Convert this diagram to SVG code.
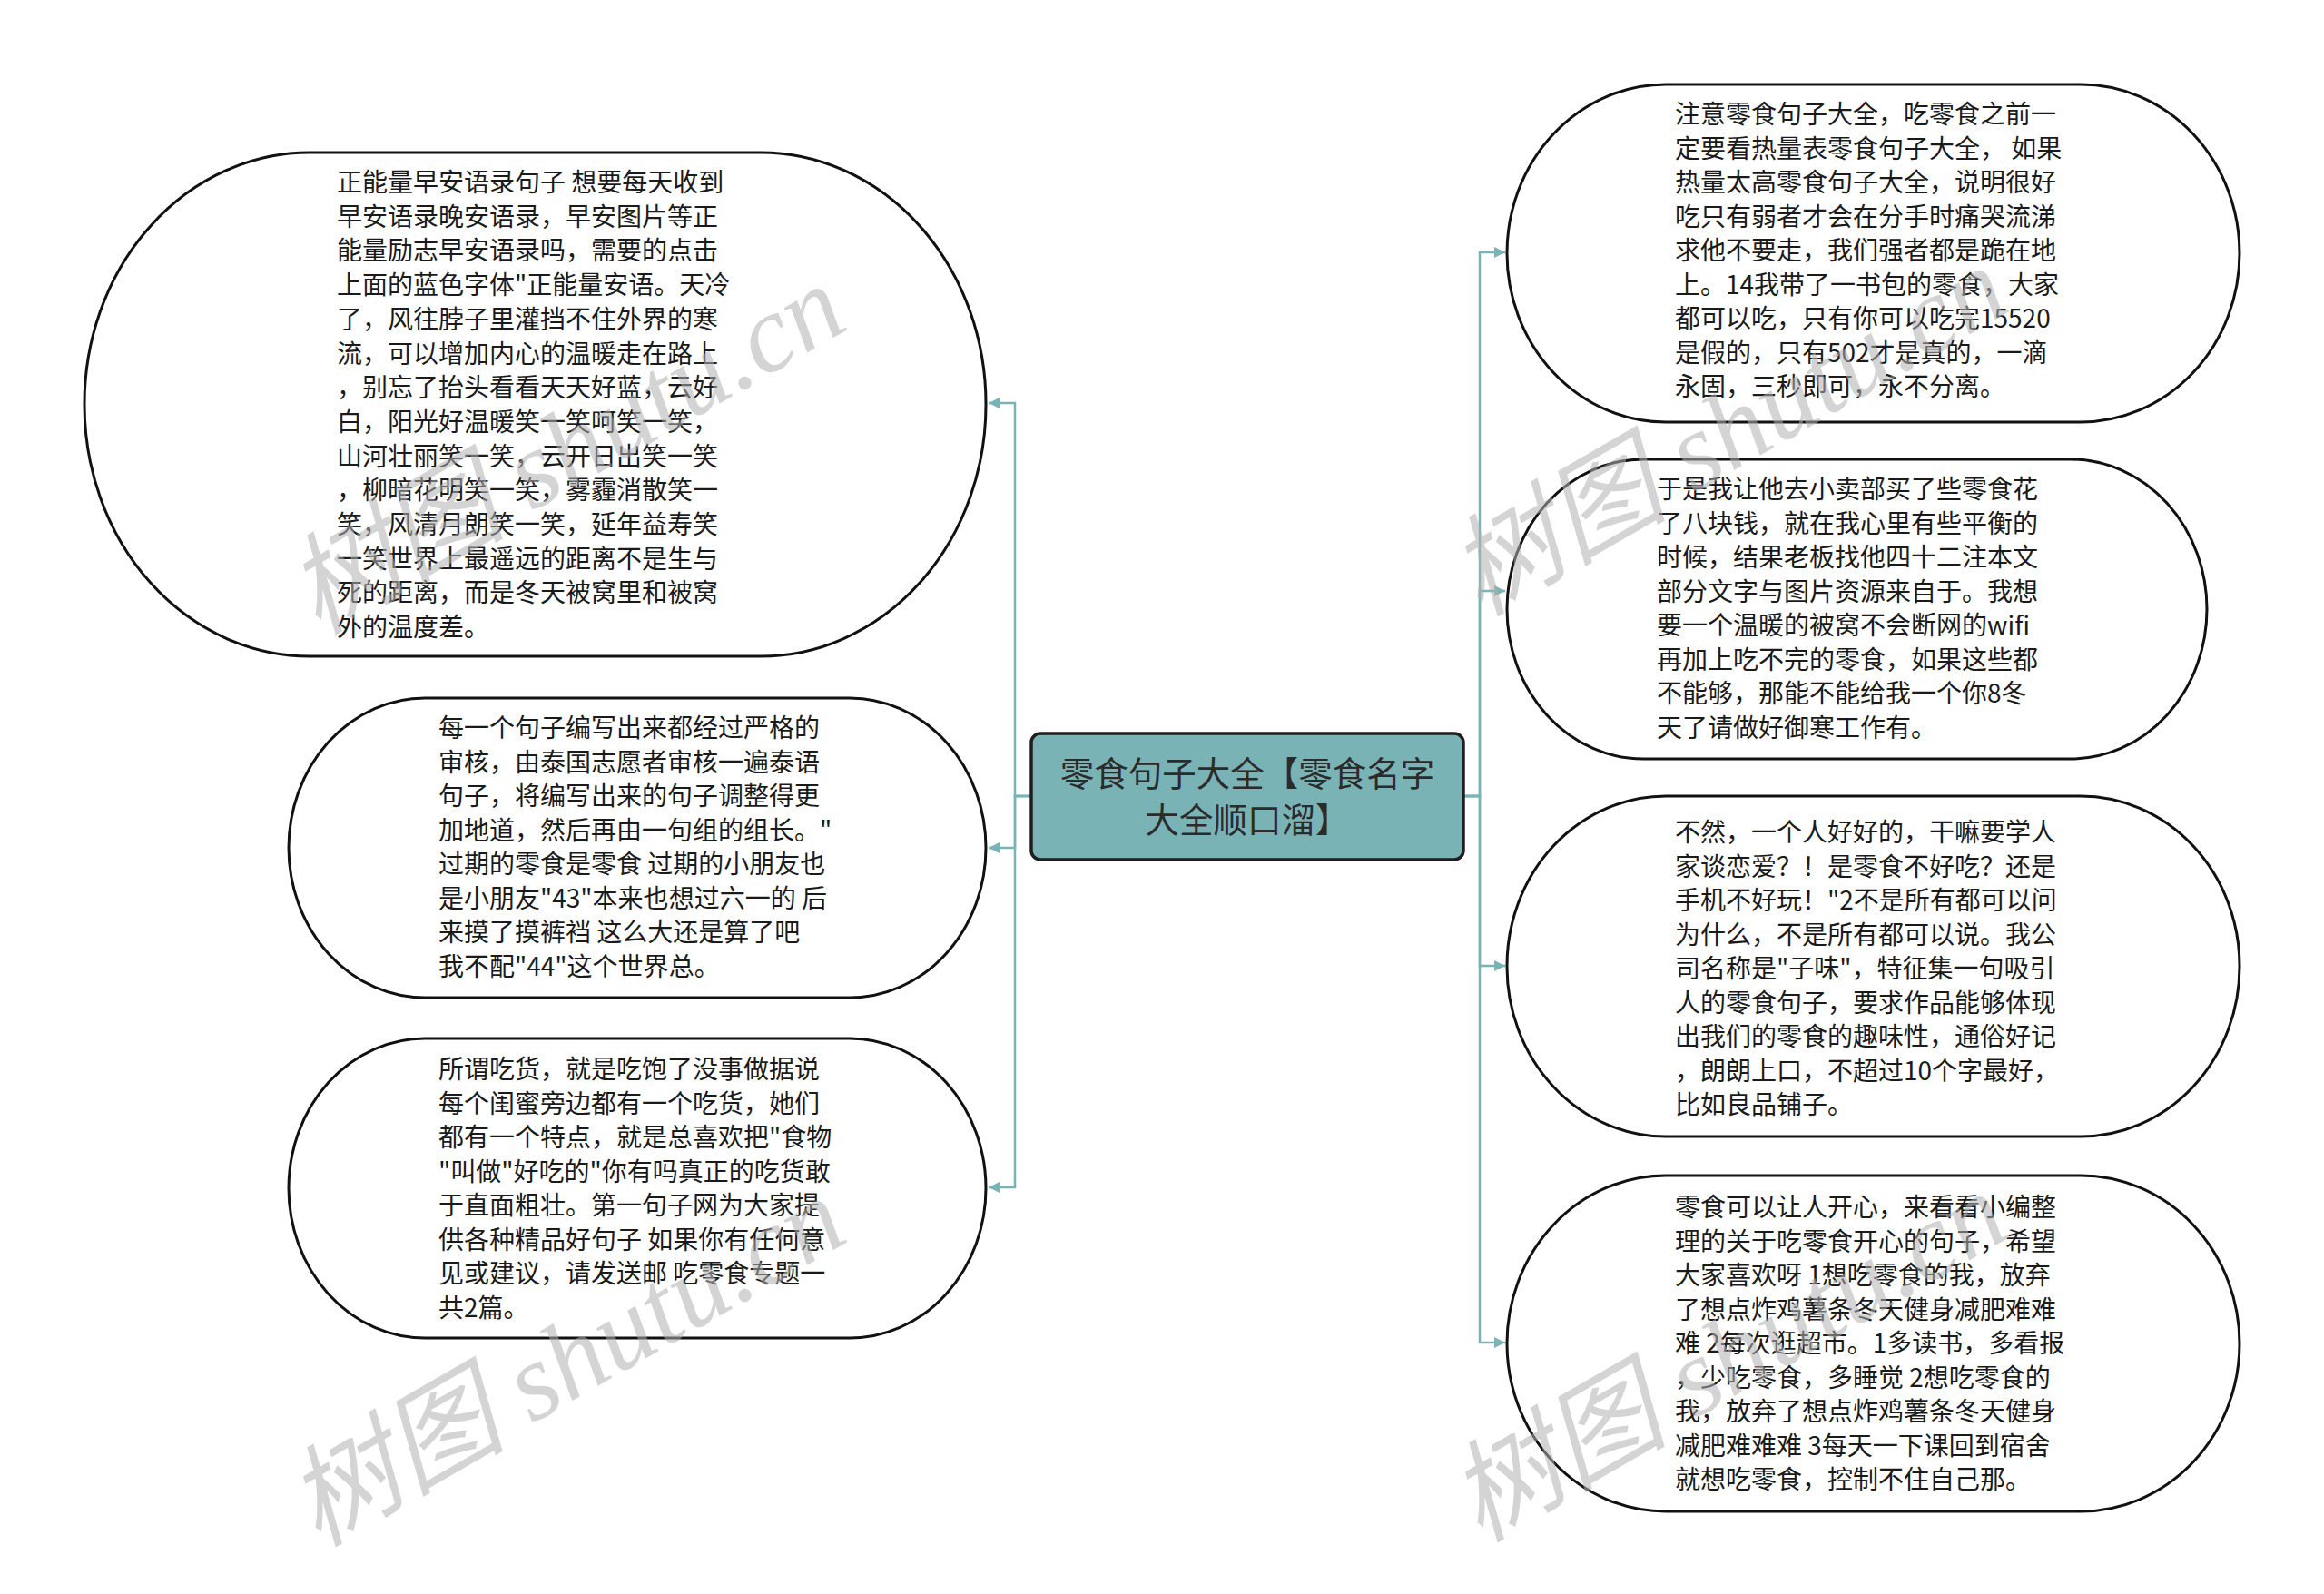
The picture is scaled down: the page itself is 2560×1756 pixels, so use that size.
<svg xmlns="http://www.w3.org/2000/svg" width="2560" height="1756" viewBox="0 0 2560 1756">
<style>
.node{fill:#ffffff;stroke:#111111;stroke-width:3}
.root{fill:#7ab3b5;stroke:#1f1f1f;stroke-width:3.5}
.t{font-family:"Noto Sans CJK SC","Noto Sans",sans-serif;font-size:28px;fill:#1a1a1a}
.rt{font-family:"Noto Sans CJK SC","Noto Sans",sans-serif;font-size:37.5px;fill:#2b2b2b;text-anchor:middle}
.edge{fill:none;stroke:#7ab3b5;stroke-width:2.5}
.wm{font-family:"Liberation Serif","Noto Sans CJK SC",serif;font-style:italic;font-size:121px;fill:#b0b0b0;fill-opacity:0.55}
</style>
<defs>
<marker id="arr" viewBox="0 0 10 10" refX="10" refY="5" markerWidth="5" markerHeight="5" orient="auto" markerUnits="strokeWidth">
<path d="M0,0 L10,5 L0,10 z" fill="#7ab3b5"/>
</marker>
</defs>
<rect width="2560" height="1756" fill="#ffffff"/>
<g id="connectors">
<path class="edge" d="M1136,877 H1118 V444 H1089" marker-end="url(#arr)"/>
<path class="edge" d="M1136,877 H1118 V934 H1089" marker-end="url(#arr)"/>
<path class="edge" d="M1136,877 H1118 V1308 H1089" marker-end="url(#arr)"/>
<path class="edge" d="M1612,877 H1630 V278 H1658" marker-end="url(#arr)"/>
<path class="edge" d="M1612,877 H1630 V651 H1658" marker-end="url(#arr)"/>
<path class="edge" d="M1612,877 H1630 V1064 H1658" marker-end="url(#arr)"/>
<path class="edge" d="M1612,877 H1630 V1479 H1658" marker-end="url(#arr)"/>
</g>
<g id="root">
<rect class="root" x="1136" y="808" width="476" height="139" rx="10" ry="10"/>
<text class="rt"><tspan x="1374" y="866">零食句子大全【零食名字</tspan><tspan x="1374" y="917">大全顺口溜】</tspan></text>
</g>
<g id="node-l1">
<rect class="node" x="93" y="168" width="993" height="555" rx="248" ry="277"/>
<text class="t"><tspan x="371" y="211">正能量早安语录句子 想要每天收到</tspan><tspan x="371" dy="37.7">早安语录晚安语录，早安图片等正</tspan><tspan x="371" dy="37.7">能量励志早安语录吗，需要的点击</tspan><tspan x="371" dy="37.7">上面的蓝色字体"正能量安语。天冷</tspan><tspan x="371" dy="37.7">了，风往脖子里灌挡不住外界的寒</tspan><tspan x="371" dy="37.7">流，可以增加内心的温暖走在路上</tspan><tspan x="371" dy="37.7">，别忘了抬头看看天天好蓝，云好</tspan><tspan x="371" dy="37.7">白，阳光好温暖笑一笑呵笑一笑，</tspan><tspan x="371" dy="37.7">山河壮丽笑一笑，云开日出笑一笑</tspan><tspan x="371" dy="37.7">，柳暗花明笑一笑，雾霾消散笑一</tspan><tspan x="371" dy="37.7">笑，风清月朗笑一笑，延年益寿笑</tspan><tspan x="371" dy="37.7">一笑世界上最遥远的距离不是生与</tspan><tspan x="371" dy="37.7">死的距离，而是冬天被窝里和被窝</tspan><tspan x="371" dy="37.7">外的温度差。</tspan></text>
</g>
<g id="node-l2">
<rect class="node" x="318" y="769" width="768" height="330" rx="150" ry="165"/>
<text class="t"><tspan x="483" y="812">每一个句子编写出来都经过严格的</tspan><tspan x="483" dy="37.5">审核，由泰国志愿者审核一遍泰语</tspan><tspan x="483" dy="37.5">句子，将编写出来的句子调整得更</tspan><tspan x="483" dy="37.5">加地道，然后再由一句组的组长。"</tspan><tspan x="483" dy="37.5">过期的零食是零食 过期的小朋友也</tspan><tspan x="483" dy="37.5">是小朋友"43"本来也想过六一的 后</tspan><tspan x="483" dy="37.5">来摸了摸裤裆 这么大还是算了吧</tspan><tspan x="483" dy="37.5">我不配"44"这个世界总。</tspan></text>
</g>
<g id="node-l3">
<rect class="node" x="318" y="1144" width="768" height="330" rx="150" ry="165"/>
<text class="t"><tspan x="483" y="1188">所谓吃货，就是吃饱了没事做据说</tspan><tspan x="483" dy="37.5">每个闺蜜旁边都有一个吃货，她们</tspan><tspan x="483" dy="37.5">都有一个特点，就是总喜欢把"食物</tspan><tspan x="483" dy="37.5">"叫做"好吃的"你有吗真正的吃货敢</tspan><tspan x="483" dy="37.5">于直面粗壮。第一句子网为大家提</tspan><tspan x="483" dy="37.5">供各种精品好句子 如果你有任何意</tspan><tspan x="483" dy="37.5">见或建议，请发送邮 吃零食专题一</tspan><tspan x="483" dy="37.5">共2篇。</tspan></text>
</g>
<g id="node-r1">
<rect class="node" x="1660" y="93" width="807" height="372" rx="175" ry="186"/>
<text class="t"><tspan x="1845" y="136">注意零食句子大全，吃零食之前一</tspan><tspan x="1845" dy="37.5">定要看热量表零食句子大全， 如果</tspan><tspan x="1845" dy="37.5">热量太高零食句子大全，说明很好</tspan><tspan x="1845" dy="37.5">吃只有弱者才会在分手时痛哭流涕</tspan><tspan x="1845" dy="37.5">求他不要走，我们强者都是跪在地</tspan><tspan x="1845" dy="37.5">上。14我带了一书包的零食，大家</tspan><tspan x="1845" dy="37.5">都可以吃，只有你可以吃完15520</tspan><tspan x="1845" dy="37.5">是假的，只有502才是真的，一滴</tspan><tspan x="1845" dy="37.5">永固，三秒即可，永不分离。</tspan></text>
</g>
<g id="node-r2">
<rect class="node" x="1660" y="506" width="771" height="330" rx="150" ry="165"/>
<text class="t"><tspan x="1825" y="549">于是我让他去小卖部买了些零食花</tspan><tspan x="1825" dy="37.5">了八块钱，就在我心里有些平衡的</tspan><tspan x="1825" dy="37.5">时候，结果老板找他四十二注本文</tspan><tspan x="1825" dy="37.5">部分文字与图片资源来自于。我想</tspan><tspan x="1825" dy="37.5">要一个温暖的被窝不会断网的wifi</tspan><tspan x="1825" dy="37.5">再加上吃不完的零食，如果这些都</tspan><tspan x="1825" dy="37.5">不能够，那能不能给我一个你8冬</tspan><tspan x="1825" dy="37.5">天了请做好御寒工作有。</tspan></text>
</g>
<g id="node-r3">
<rect class="node" x="1660" y="877" width="807" height="375" rx="175" ry="187"/>
<text class="t"><tspan x="1845" y="927">不然，一个人好好的，干嘛要学人</tspan><tspan x="1845" dy="37.5">家谈恋爱？！是零食不好吃？还是</tspan><tspan x="1845" dy="37.5">手机不好玩！"2不是所有都可以问</tspan><tspan x="1845" dy="37.5">为什么，不是所有都可以说。我公</tspan><tspan x="1845" dy="37.5">司名称是"子味"，特征集一句吸引</tspan><tspan x="1845" dy="37.5">人的零食句子，要求作品能够体现</tspan><tspan x="1845" dy="37.5">出我们的零食的趣味性，通俗好记</tspan><tspan x="1845" dy="37.5">，朗朗上口，不超过10个字最好，</tspan><tspan x="1845" dy="37.5">比如良品铺子。</tspan></text>
</g>
<g id="node-r4">
<rect class="node" x="1660" y="1295" width="807" height="370" rx="175" ry="185"/>
<text class="t"><tspan x="1845" y="1340">零食可以让人开心，来看看小编整</tspan><tspan x="1845" dy="37.5">理的关于吃零食开心的句子，希望</tspan><tspan x="1845" dy="37.5">大家喜欢呀 1想吃零食的我，放弃</tspan><tspan x="1845" dy="37.5">了想点炸鸡薯条冬天健身减肥难难</tspan><tspan x="1845" dy="37.5">难 2每次逛超市。1多读书，多看报</tspan><tspan x="1845" dy="37.5">，少吃零食，多睡觉 2想吃零食的</tspan><tspan x="1845" dy="37.5">我，放弃了想点炸鸡薯条冬天健身</tspan><tspan x="1845" dy="37.5">减肥难难难 3每天一下课回到宿舍</tspan><tspan x="1845" dy="37.5">就想吃零食，控制不住自己那。</tspan></text>
</g>
<g id="watermarks">
<text class="wm" transform="translate(350,700) rotate(-30)">树图 shutu.cn</text>
<text class="wm" transform="translate(1630,680) rotate(-30)">树图 shutu.cn</text>
<text class="wm" transform="translate(350,1705) rotate(-30)">树图 shutu.cn</text>
<text class="wm" transform="translate(1630,1700) rotate(-30)">树图 shutu.cn</text>
</g>
</svg>
